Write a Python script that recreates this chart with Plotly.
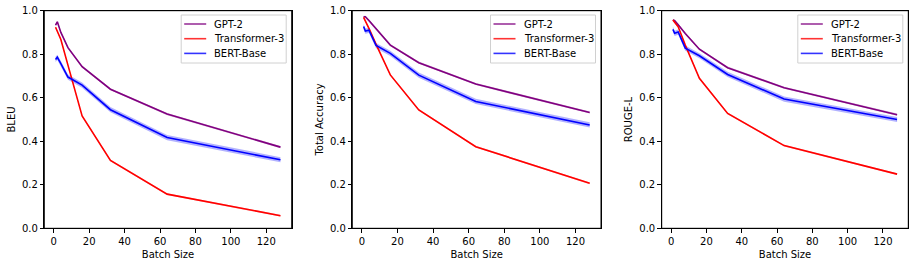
import plotly.graph_objects as go

batch_sizes = [1, 2, 4, 8, 16, 32, 64, 128]
series_names = ["GPT-2", "Transformer-3", "BERT-Base"]
metric_names = ["BLEU", "Total Accuracy", "ROUGE-L"]
x_tick_labels = ["0", "20", "40", "60", "80", "100", "120"]
y_tick_labels = ["0.0", "0.2", "0.4", "0.6", "0.8", "1.0"]

bleu_gpt2 = [0.934, 0.949, 0.900, 0.830, 0.743, 0.639, 0.525, 0.373]
bleu_trans = [0.924, 0.905, 0.868, 0.750, 0.516, 0.312, 0.157, 0.058]
bleu_bert = [0.776, 0.786, 0.757, 0.695, 0.658, 0.545, 0.417, 0.315]

acc_gpt2 = [0.972, 0.972, 0.955, 0.918, 0.842, 0.761, 0.663, 0.532]
acc_trans = [0.969, 0.950, 0.919, 0.845, 0.705, 0.544, 0.375, 0.207]
acc_bert = [0.927, 0.906, 0.910, 0.840, 0.804, 0.704, 0.583, 0.475]

rouge_gpt2 = [0.957, 0.954, 0.935, 0.895, 0.823, 0.738, 0.646, 0.522]
rouge_trans = [0.957, 0.945, 0.926, 0.842, 0.689, 0.528, 0.380, 0.249]
rouge_bert = [0.914, 0.896, 0.902, 0.828, 0.793, 0.707, 0.594, 0.500]

# half-width of shaded band (std) per series
spread_gpt2 = 0.005
spread_trans = 0.004
spread_bert = 0.012

panels = [
    [bleu_gpt2, bleu_trans, bleu_bert],
    [acc_gpt2, acc_trans, acc_bert],
    [rouge_gpt2, rouge_trans, rouge_bert],
]
spreads = [spread_gpt2, spread_trans, spread_bert]
line_colors = ["rgb(128,0,128)", "rgb(255,0,0)", "rgb(0,0,255)"]
legend_line_colors = ["rgba(128,0,128,0.8)", "rgba(255,0,0,0.8)", "rgba(0,0,255,0.8)"]
band_colors = ["rgba(128,0,128,0.3)", "rgba(255,0,0,0.3)", "rgba(0,0,255,0.3)"]

W, H = 915, 266


def px(xp):
    return xp / W


def py(yp):
    return 1 - yp / H


x_px = [(44.3, 291.7), (352.3, 601.0), (661.7, 908.3)]
y_px = (10.7, 228.3)

fig = go.Figure()
shapes = []
annotations = []
layout = dict(
    width=W, height=H,
    margin=dict(l=0, r=0, t=0, b=0),
    paper_bgcolor="white", plot_bgcolor="white",
    font=dict(family="DejaVu Sans", size=10, color="black"),
    showlegend=False,
)

for i, vals in enumerate(panels):
    xa = "x" if i == 0 else f"x{i+1}"
    ya = "y" if i == 0 else f"y{i+1}"
    for j, v in enumerate(vals):
        up = [a + spreads[j] for a in v]
        lo = [a - spreads[j] for a in v]
        fig.add_trace(go.Scatter(
            x=batch_sizes + batch_sizes[::-1], y=up + lo[::-1],
            fill="toself", fillcolor=band_colors[j], line=dict(width=0),
            mode="lines", showlegend=False, hoverinfo="skip",
            xaxis=xa, yaxis=ya))
    for j, v in enumerate(vals):
        fig.add_trace(go.Scatter(
            x=batch_sizes, y=v, mode="lines", name=series_names[j],
            line=dict(color=line_colors[j], width=1.6),
            xaxis=xa, yaxis=ya))
    axis_common = dict(
        showline=True, linecolor="black", linewidth=1, mirror=True,
        showgrid=False, zeroline=False, ticks="outside", ticklen=3.5,
        tickwidth=1, tickcolor="black", tickfont=dict(size=10),
        ticklabeloverflow="allow", automargin=False,
    )
    layout["xaxis" if i == 0 else f"xaxis{i+1}"] = dict(
        axis_common,
        domain=[px(x_px[i][0]), px(x_px[i][1])],
        range=[-5.35, 134.35], tickvals=[0, 20, 40, 60, 80, 100, 120],
        ticktext=x_tick_labels,
        title=dict(text="Batch Size", standoff=5, font=dict(size=10)),
        anchor=ya,
    )
    layout["yaxis" if i == 0 else f"yaxis{i+1}"] = dict(
        axis_common,
        domain=[py(y_px[1]), py(y_px[0])],
        range=[0, 1], tickvals=[0, 0.2, 0.4, 0.6, 0.8, 1.0],
        ticktext=y_tick_labels,
        title=dict(text=metric_names[i], standoff=4, font=dict(size=10)),
        anchor=xa,
    )
    # frame box
    shapes.append(dict(type="rect", xref="paper", yref="paper",
                       x0=px(x_px[i][0]), x1=px(x_px[i][1]),
                       y0=py(y_px[1]), y1=py(y_px[0]),
                       line=dict(color="black", width=1), layer="above"))
    # legend box
    right = x_px[i][1] - 5.5
    left = right - 105
    top, bottom = 15.0, 63.0
    shapes.append(dict(type="rect", xref="paper", yref="paper",
                       x0=px(left), x1=px(right), y0=py(bottom), y1=py(top),
                       line=dict(color="#d0d0d0", width=1),
                       fillcolor="rgba(255,255,255,0.8)", layer="above"))
    for j, name in enumerate(series_names):
        yy = 24.0 + 14.7 * j
        shapes.append(dict(type="line", xref="paper", yref="paper",
                           x0=px(left + 3), x1=px(left + 25),
                           y0=py(yy), y1=py(yy),
                           line=dict(color=legend_line_colors[j], width=1.6),
                           layer="above"))
        annotations.append(dict(xref="paper", yref="paper",
                                x=px(left + 31), y=py(yy), text=name,
                                showarrow=False, xanchor="left", yanchor="middle",
                                font=dict(size=10, color="black")))

layout["shapes"] = shapes
layout["annotations"] = annotations
fig.update_layout(**layout)
fig.write_html(
    "out.html",
    config={"displayModeBar": False},
    post_script="document.body.style.margin='0px';document.body.style.overflow='hidden';",
)
